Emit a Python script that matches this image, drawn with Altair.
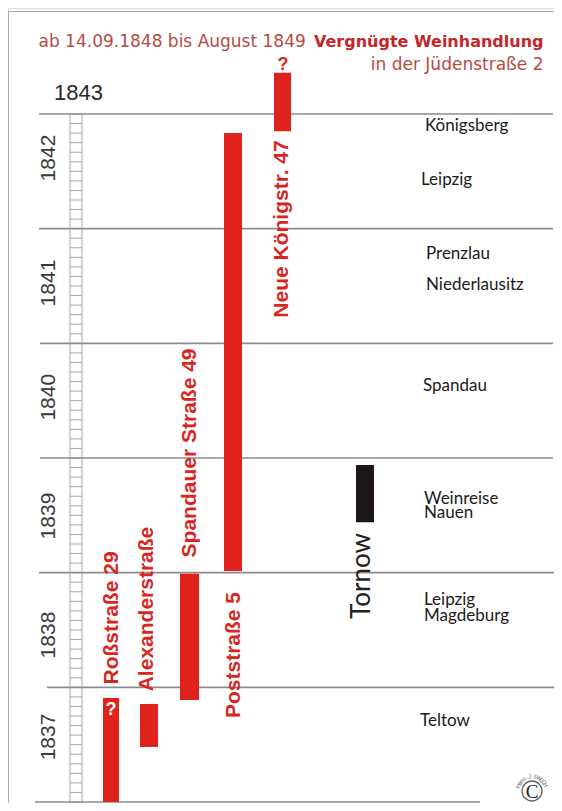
import math
import altair as alt
import pandas as pd

# ---------------- data ----------------
streets = ["Roßstraße 29", "Alexanderstraße", "Spandauer Straße 49",
           "Poststraße 5", "Neue Königstr. 47", "Tornow"]
start_year = [1837.0, 1837.48, 1837.89, 1839.015, 1842.85, 1839.44]
end_year = [1837.907, 1837.855, 1838.99, 1842.834, 1843.36, 1839.94]
label_year = [1838.605, 1838.683, 1840.044, 1838.282, 1841.997, 1838.971]

places = ["Königsberg", "Leipzig", "Prenzlau", "Niederlausitz", "Spandau",
          "Weinreise", "Nauen", "Leipzig", "Magdeburg", "Teltow"]
place_year = [1842.895, 1842.424, 1841.779, 1841.509, 1840.63,
              1839.640, 1839.523, 1838.759, 1838.625, 1837.706]

grid_years = [1837, 1838, 1839, 1840, 1841, 1842, 1843]
year_labels = ["1837", "1838", "1839", "1840", "1841", "1842"]
year_label_pos = [1837.567, 1838.456, 1839.494, 1840.53, 1841.526, 1842.616]

title_regular = "ab 14.09.1848 bis August 1849 "
title_bold = "Vergnügte Weinhandlung"
title_line2 = "in der Jüdenstraße 2"
copyright_text = "Hans-J.PAECH"

# ---------------- layout ----------------
W, H = 546, 795
PX_PER_YEAR = 688 / 6
Y_TOP = 1843 + 106 / PX_PER_YEAR
Y_BOT = Y_TOP - H / PX_PER_YEAR


def yr(cy):
    return Y_TOP - cy / PX_PER_YEAR


bar_x = [95, 132, 172, 216, 266, 348]
bar_x2 = [111, 150, 191, 234, 283, 366]
bar_color = ["#e0221c"] * 5 + ["#1c1616"]
label_x = [104, 139, 182, 226, 274, 354]
place_x = [417, 413, 418, 418, 415, 416, 416, 416, 416, 412]
grid_x = [27, 39, 31, 32, 32, 31, 31]
grid_x2 = [472, 546, 547, 545, 545, 545, 545]

RED_TXT = "#d8261f"
GRAY = "#8c8c8c"

xs = alt.Scale(domain=[0, W], nice=False, zero=False)
ys = alt.Scale(domain=[Y_BOT, Y_TOP], nice=False, zero=False)


def X(f):
    return alt.X(f, type="quantitative", scale=xs, axis=None)


def Y(f):
    return alt.Y(f, type="quantitative", scale=ys, axis=None)


one = pd.DataFrame({"k": [0]})

# border (top & left)
border_top = alt.Chart(one).mark_rule(color="#aaaaaa", strokeWidth=1).encode(
    x=alt.value(0.5), x2=alt.value(W), y=alt.value(3.5))
border_left = alt.Chart(one).mark_rule(color="#aaaaaa", strokeWidth=1).encode(
    x=alt.value(0.5), y=alt.value(3.5), y2=alt.value(H))

# year grid lines
grid_df = pd.DataFrame({"year": grid_years, "x": grid_x, "x2": grid_x2})
grid = alt.Chart(grid_df).mark_rule(color=GRAY, strokeWidth=1.6).encode(
    x=X("x"), x2="x2", y=Y("year"))

# month ruler
ruler_x = [62, 74]
months = [1837 + k / 12 for k in range(73)]
ticks_df = pd.DataFrame({"y": months, "x": [ruler_x[0]] * len(months),
                         "x2": [ruler_x[1]] * len(months)})
ruler_ticks = alt.Chart(ticks_df).mark_rule(color="#a8a8a8", strokeWidth=1).encode(
    x=X("x"), x2="x2", y=Y("y"))
sides_df = pd.DataFrame({"x": ruler_x, "y": [1837, 1837], "y2": [1843, 1843]})
ruler_sides = alt.Chart(sides_df).mark_rule(color="#a8a8a8", strokeWidth=1).encode(
    x=X("x"), y=Y("y"), y2="y2")

# bars
bars_df = pd.DataFrame({"street": streets, "start": start_year, "end": end_year,
                        "x": bar_x, "x2": bar_x2, "c": bar_color})
bars = alt.Chart(bars_df).mark_rect().encode(
    x=X("x"), x2="x2", y=Y("start"), y2="end",
    color=alt.Color("c:N", scale=None))

# street labels
lab_df = pd.DataFrame({"street": streets[:5], "y": label_year[:5], "x": label_x[:5]})
labels = alt.Chart(lab_df).mark_text(
    angle=270, align="center", baseline="middle", font="Liberation Sans",
    fontWeight="bold", fontSize=21, color=RED_TXT).encode(
    x=X("x"), y=Y("y"), text="street:N")
tornow_df = pd.DataFrame({"street": streets[5:], "y": label_year[5:], "x": label_x[5:]})
tornow = alt.Chart(tornow_df).mark_text(
    angle=270, align="center", baseline="middle", font="Lato",
    fontSize=26, color="#222222").encode(
    x=X("x"), y=Y("y"), text="street:N")

# question marks
q_df = pd.DataFrame({"t": ["?"], "x": [103], "y": [1837.80]})
q_white = alt.Chart(q_df).mark_text(
    align="center", baseline="middle", font="Liberation Sans", fontWeight="bold",
    fontSize=18, color="white").encode(x=X("x"), y=Y("y"), text="t:N")
q2_df = pd.DataFrame({"t": ["?"], "x": [275], "y": [1843.427]})
q_red = alt.Chart(q2_df).mark_text(
    align="center", baseline="middle", font="Liberation Sans", fontWeight="bold",
    fontSize=18, color=RED_TXT).encode(x=X("x"), y=Y("y"), text="t:N")

# places
pl_df = pd.DataFrame({"p": places, "y": place_year, "x": place_x})
place_txt = alt.Chart(pl_df).mark_text(
    align="left", baseline="middle", font="Lato", fontSize=17,
    color="#1a1a1a").encode(x=X("x"), y=Y("y"), text="p:N")

# year labels
yl_df = pd.DataFrame({"t": year_labels, "y": year_label_pos, "x": [41] * 6})
year_txt = alt.Chart(yl_df).mark_text(
    angle=270, align="center", baseline="middle", font="Liberation Sans",
    fontSize=21, color="#3a3a3a").encode(x=X("x"), y=Y("y"), text="t:N")
y43_df = pd.DataFrame({"t": ["1843"], "y": [1843.183], "x": [46]})
y43 = alt.Chart(y43_df).mark_text(
    align="left", baseline="middle", font="Liberation Sans",
    fontSize=22, color="#2a2a2a").encode(x=X("x"), y=Y("y"), text="t:N")

# title
t1 = alt.Chart(pd.DataFrame({"t": [title_regular]})).mark_text(
    align="left", baseline="middle", font="DejaVu Sans", fontSize=17,
    color="#b94a42").encode(x=alt.value(30.5), y=alt.value(34), text="t:N")
t2 = alt.Chart(pd.DataFrame({"t": [title_bold]})).mark_text(
    align="right", baseline="middle", font="DejaVu Sans", fontSize=16,
    fontWeight="bold", color="#c4262a").encode(
    x=alt.value(535.5), y=alt.value(34), text="t:N")
t3 = alt.Chart(pd.DataFrame({"t": [title_line2]})).mark_text(
    align="right", baseline="middle", font="DejaVu Sans", fontSize=17,
    color="#b94a42").encode(x=alt.value(535.5), y=alt.value(57), text="t:N")

# copyright mark
cx, cy, r = 524, 783, 14.5
circ_df = pd.DataFrame({"x": [cx], "y": [yr(cy)], "t": ["C"]})
circle = alt.Chart(circ_df).mark_point(
    shape="circle", size=400, filled=False, stroke="#222222",
    strokeWidth=1.3).encode(x=X("x"), y=Y("y"))
cchar = alt.Chart(circ_df).mark_text(
    align="center", baseline="middle", font="Liberation Serif", fontSize=19,
    color="#222222", dy=1).encode(x=X("x"), y=Y("y"), text="t:N")
n = len(copyright_text)
arc_rows = []
for i, ch in enumerate(copyright_text):
    th = 160 - i * (135 / (n - 1))
    rad = math.radians(th)
    px = cx + r * math.cos(rad)
    py = cy - r * math.sin(rad)
    ang = (90 - th) % 360
    arc_rows.append({"ch": ch, "x": px, "y": yr(py), "a": ang})
arc_df = pd.DataFrame(arc_rows)
arc = alt.Chart(arc_df).mark_text(
    align="center", baseline="middle", font="Liberation Sans", fontSize=6,
    color="#666666").encode(x=X("x"), y=Y("y"), text="ch:N",
                            angle=alt.Angle("a:Q", scale=None))

chart = alt.layer(
    border_top, border_left, ruler_ticks, ruler_sides, grid, bars, labels,
    tornow, q_white, q_red, place_txt, year_txt, y43, t1, t2, t3,
    circle, cchar, arc
).properties(
    width=W, height=H, autosize=alt.AutoSizeParams(type="none"), padding=0
).configure_view(stroke=None).configure(background="white")

chart.save("out.html", embed_options={"renderer": "svg", "actions": False})
